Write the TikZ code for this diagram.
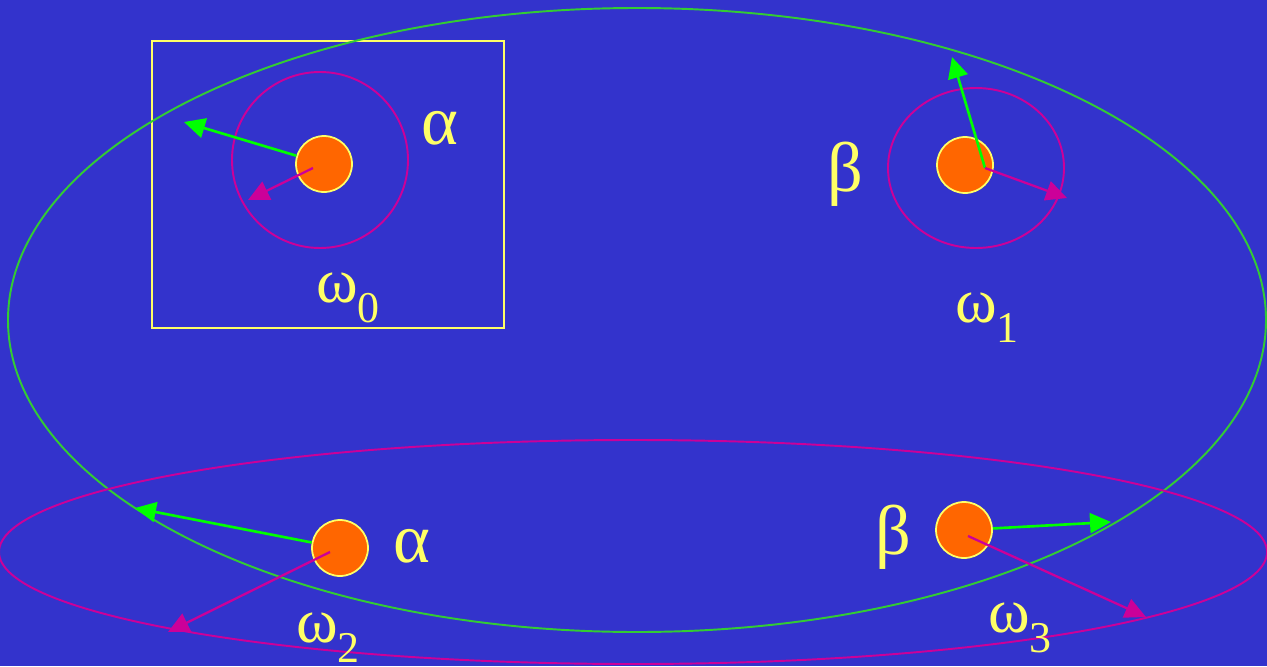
\documentclass[tikz,border=0pt]{standalone}
\usepackage{fontspec}
\setmainfont{Liberation Serif}
\usepackage{tikz}
\usetikzlibrary{arrows.meta, positioning, calc}

\definecolor{bgblue}{RGB}{51,51,204}
\definecolor{ballorange}{RGB}{255,102,0}
\definecolor{lineyellow}{RGB}{255,255,102}
\definecolor{ringmagenta}{RGB}{204,0,153}
\definecolor{ringgreen}{RGB}{51,204,51}
\definecolor{arrowgreen}{RGB}{0,255,0}

% omega with a lowered index
\newcommand{\wsub}[1]{ω\raisebox{-0.32em}{\fontsize{25}{25}\selectfont #1}}

\begin{document}
\begin{tikzpicture}[
  x=0.02cm, y=-0.02cm,
  % orange particle with thin yellow rim
  ball/.style={
    circle, draw=lineyellow, line width=1pt,
    fill=ballorange, minimum size=1.12cm, inner sep=0pt
  },
  lbl/.style={text=lineyellow, font=\fontsize{36}{40}\selectfont, inner sep=0pt},
  greek/.style={lbl, font=\fontsize{40}{44}\selectfont},
  ring/.style={draw=ringmagenta, line width=1.1pt},
  hull/.style={draw=ringgreen, line width=1.1pt},
  garr/.style={-{Triangle[length=0.42cm,width=0.4cm]}, arrowgreen, line width=1.5pt},
  marr/.style={-{Triangle[length=0.42cm,width=0.4cm]}, ringmagenta, line width=1.3pt},
]

%% ── Background and frame ──────────────────────────────────────────────────
\fill[bgblue] (0,0) rectangle (1267,666);
\useasboundingbox (0,0) rectangle (1267,666);
\draw[lineyellow, line width=1.1pt] (152,41) rectangle (504,328);

%% ── Groupings ─────────────────────────────────────────────────────────────
\draw[hull] (637,320) ellipse [x radius=629, y radius=312];
\draw[ring] (633,552) ellipse [x radius=634, y radius=112];
\draw[ring] (320,160) ellipse [x radius=88, y radius=88];
\draw[ring] (976,168) ellipse [x radius=88, y radius=80];

%% ── Particles ─────────────────────────────────────────────────────────────
\node[ball] (ball0) at (324,164) {};
\node[ball] (ball1) at (965,165) {};
\node[ball] (ball2) at (340,548) {};
\node[ball] (ball3) at (964,530) {};

%% ── Labels ────────────────────────────────────────────────────────────────
\node[greek] (alpha0) at (440,128) {α};
\node[greek] (beta1)  at (845,174) {β};
\node[greek] (alpha2) at (412,546) {α};
\node[greek] (beta3)  at (893,537) {β};
\node[lbl] (om0) at (348,298) {\wsub{0}};
\node[lbl] (om1) at (987,318) {\wsub{1}};
\node[lbl] (om2) at (328,638) {\wsub{2}};
\node[lbl] (om3) at (1020,628) {\wsub{3}};

%% ── Arrow ends ────────────────────────────────────────────────────────────
\coordinate (g0) at (184,122);
\coordinate (m0) at (248,200);
\coordinate (g1) at (952,57);
\coordinate (m1) at (1067,198);
\coordinate (g2) at (135,508);
\coordinate (m2) at (168,632);
\coordinate (g3) at (1111,522);
\coordinate (m3) at (1146,617);

%% ── Arrows ────────────────────────────────────────────────────────────────
\draw[garr] (ball0) -- (g0);
\draw[marr] ($(ball0.center)+(-11,4)$) -- (m0);
\draw[garr] ($(ball1.center)+(20,3)$) -- (g1);
\draw[marr] ($(ball1.center)+(20,3)$) -- (m1);
\draw[garr] (ball2) -- (g2);
\draw[marr] ($(ball2.center)+(-10,4)$) -- (m2);
\draw[garr] (ball3) -- (g3);
\draw[marr] ($(ball3.center)+(4,6)$) -- (m3);

\end{tikzpicture}
\end{document}
